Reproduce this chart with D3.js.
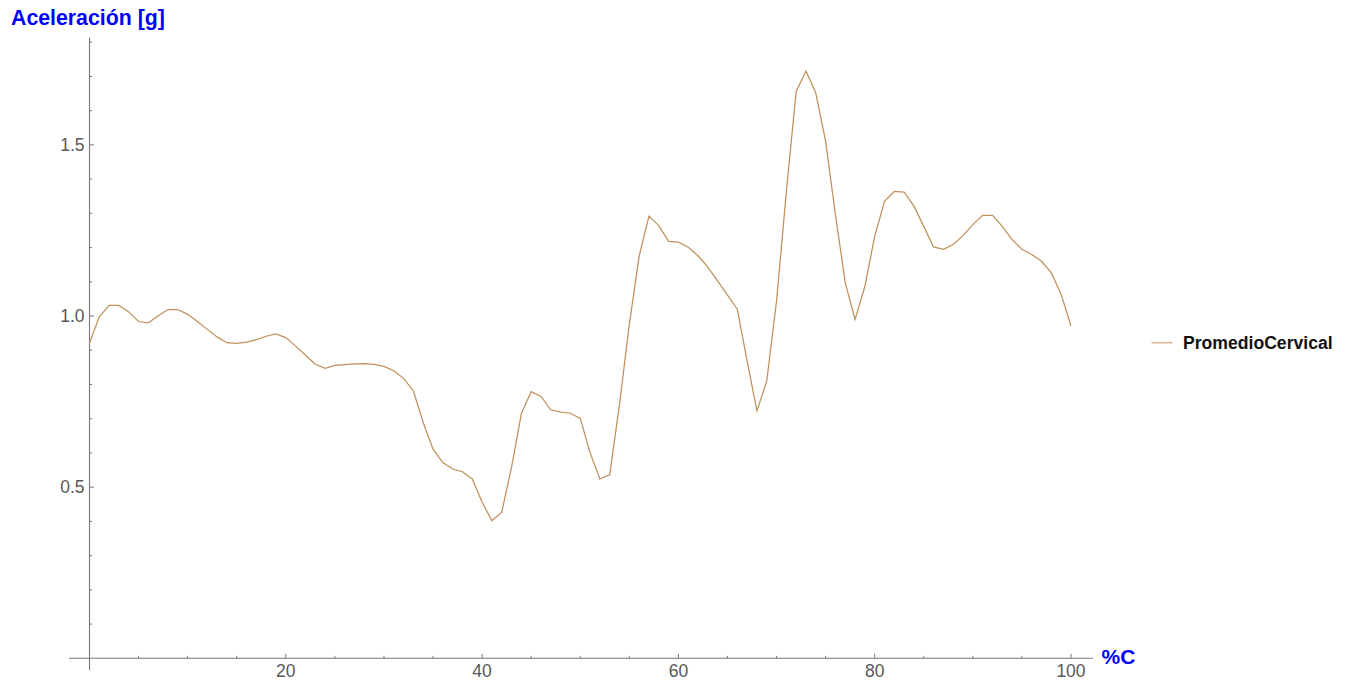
<!DOCTYPE html>
<html>
<head>
<meta charset="utf-8">
<script src="https://cdn.jsdelivr.net/npm/d3@7"></script>
<style>
  html, body { margin: 0; padding: 0; background: #fff; }
  svg { display: block; }
</style>
</head>
<body>
<svg id="chart" width="1354" height="681"></svg>
<script>
// ---- data ----
const xValues = d3.range(0, 101);
const promedioCervical = [
  0.921, 0.998, 1.031, 1.031, 1.012, 0.984, 0.980, 1.001, 1.019, 1.019,
  1.005, 0.984, 0.961, 0.939, 0.922, 0.920, 0.924, 0.931, 0.941, 0.948,
  0.937, 0.912, 0.886, 0.859, 0.847, 0.856, 0.858, 0.860, 0.861, 0.859,
  0.853, 0.840, 0.818, 0.781, 0.689, 0.611, 0.572, 0.553, 0.545, 0.524,
  0.456, 0.402, 0.427, 0.558, 0.715, 0.779, 0.765, 0.726, 0.719, 0.716,
  0.701, 0.601, 0.524, 0.536, 0.742, 0.976, 1.175, 1.292, 1.264, 1.218,
  1.216, 1.201, 1.176, 1.143, 1.102, 1.061, 1.020, 0.869, 0.723, 0.810,
  1.044, 1.364, 1.656, 1.716, 1.651, 1.510, 1.296, 1.097, 0.990, 1.087,
  1.233, 1.335, 1.364, 1.362, 1.321, 1.262, 1.202, 1.195, 1.209, 1.235,
  1.267, 1.294, 1.294, 1.262, 1.223, 1.195, 1.180, 1.160, 1.126, 1.063,
  0.971
];
const seriesName = "PromedioCervical";
const xMajorTicks = [20, 40, 60, 80, 100];
const yMajorTicks = [0.5, 1.0, 1.5];
const yLabel = "Aceleración [g]";
const xLabel = "%C";

// ---- layout ----
const svg = d3.select("#chart");
const x = d3.scaleLinear().domain([0, 100]).range([89.5, 1071]);
const y = d3.scaleLinear().domain([0, 1.5]).range([658.3, 144.9]);

const axisColor = "#777";
const tickLabelColor = "#585858";
const lineColor = "#c0905c";

// y axis line
svg.append("line")
  .attr("x1", x(0)).attr("x2", x(0))
  .attr("y1", 37.5).attr("y2", 670)
  .attr("stroke", axisColor).attr("stroke-width", 1.1);
// x axis line
svg.append("line")
  .attr("x1", 69).attr("x2", 1093)
  .attr("y1", y(0)).attr("y2", y(0))
  .attr("stroke", axisColor).attr("stroke-width", 1.1);

// y ticks (inward, to the right)
const yMinor = d3.range(1, 19).map(d => d / 10).filter(v => !yMajorTicks.some(m => Math.abs(m - v) < 1e-9));
svg.append("g").selectAll("line").data(yMinor).join("line")
  .attr("x1", x(0)).attr("x2", x(0) + 2.5)
  .attr("y1", d => y(d)).attr("y2", d => y(d))
  .attr("stroke", axisColor).attr("stroke-width", 1);
svg.append("g").selectAll("line").data(yMajorTicks).join("line")
  .attr("x1", x(0)).attr("x2", x(0) + 4.5)
  .attr("y1", d => y(d)).attr("y2", d => y(d))
  .attr("stroke", axisColor).attr("stroke-width", 1);
svg.append("g").selectAll("text").data(yMajorTicks).join("text")
  .attr("x", x(0) - 5).attr("y", d => y(d))
  .attr("text-anchor", "end").attr("dominant-baseline", "central")
  .attr("font-family", "Liberation Sans, Arial, sans-serif")
  .attr("font-size", 17.5).attr("fill", tickLabelColor)
  .text(d => d3.format(".1f")(d));

// x ticks (inward, upward)
const xMinor = d3.range(5, 101, 5).filter(v => !xMajorTicks.includes(v));
svg.append("g").selectAll("line").data(xMinor).join("line")
  .attr("x1", d => x(d)).attr("x2", d => x(d))
  .attr("y1", y(0)).attr("y2", y(0) - 2.5)
  .attr("stroke", axisColor).attr("stroke-width", 1);
svg.append("g").selectAll("line").data(xMajorTicks).join("line")
  .attr("x1", d => x(d)).attr("x2", d => x(d))
  .attr("y1", y(0)).attr("y2", y(0) - 4.5)
  .attr("stroke", axisColor).attr("stroke-width", 1);
svg.append("g").selectAll("text").data(xMajorTicks).join("text")
  .attr("x", d => x(d)).attr("y", 676.5)
  .attr("text-anchor", "middle")
  .attr("font-family", "Liberation Sans, Arial, sans-serif")
  .attr("font-size", 17.5).attr("fill", tickLabelColor)
  .text(d => d);

// axis labels
svg.append("text")
  .attr("x", 11).attr("y", 24.5)
  .attr("font-family", "Liberation Sans, Arial, sans-serif")
  .attr("font-weight", "bold").attr("font-size", 21.3)
  .attr("fill", "#0000ff")
  .text(yLabel);
svg.append("text")
  .attr("x", 1101.5).attr("y", 664)
  .attr("font-family", "Liberation Sans, Arial, sans-serif")
  .attr("font-weight", "bold").attr("font-size", 21)
  .attr("fill", "#0000ff")
  .text(xLabel);

// data line
const line = d3.line()
  .x((d, i) => x(xValues[i]))
  .y(d => y(d));
svg.append("path")
  .datum(promedioCervical)
  .attr("d", line)
  .attr("fill", "none")
  .attr("stroke", lineColor)
  .attr("stroke-width", 1.25)
  .attr("stroke-linejoin", "miter");

// legend
svg.append("line")
  .attr("x1", 1151.5).attr("x2", 1172.5)
  .attr("y1", 342.7).attr("y2", 342.7)
  .attr("stroke", "#d6bb9c").attr("stroke-width", 1.6);
svg.append("text")
  .attr("x", 1183).attr("y", 342.7)
  .attr("dominant-baseline", "central")
  .attr("font-family", "Liberation Sans, Arial, sans-serif")
  .attr("font-weight", "bold").attr("font-size", 17.6)
  .attr("fill", "#111")
  .text(seriesName);
</script>
</body>
</html>
